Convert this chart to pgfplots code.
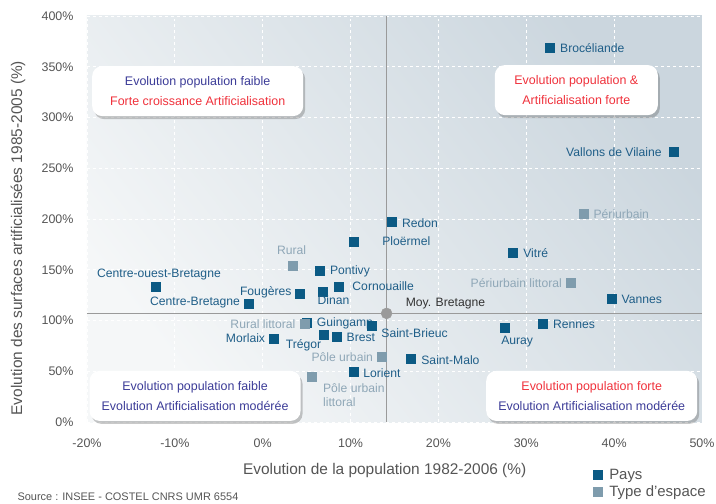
\documentclass[border=0pt]{standalone}
\usepackage{fontspec}
\setmainfont{Liberation Sans}
\usepackage{pgfplots}
\pgfplotsset{compat=1.18}
\usetikzlibrary{shadows}

\definecolor{pays}{HTML}{0B5A84}
\definecolor{paystext}{HTML}{1F5E88}
\definecolor{espace}{HTML}{7F9CAD}
\definecolor{espacetext}{HTML}{8FA7B7}
\definecolor{tickgray}{HTML}{555555}
\definecolor{avggray}{HTML}{9A9A9A}
\definecolor{bgA}{HTML}{F5F7F8}
\definecolor{bgB}{HTML}{CBD6DE}
\definecolor{boxblue}{HTML}{3C3C98}
\definecolor{boxred}{HTML}{F0323C}

\tikzset{box/.style={fill=white, rounded corners=10bp, minimum width=211bp,
    minimum height=50bp, align=center, font=\fontsize{12.5}{20}\selectfont,
    drop shadow={shadow xshift=2bp, shadow yshift=-3bp, opacity=0.3, fill=black!70}}}

\pgfplotsset{
  % label anchor, xshift, yshift, text colour
  lab/.style n args={4}{
    nodes near coords, point meta=explicit symbolic,
    every node near coord/.style={anchor=#1, xshift=#2, yshift=#3,
      inner sep=0pt, align=left, font=\fontsize{12.2}{14.5}\selectfont, text=#4}},
  pays/.style={only marks, mark=square*, mark size=4.5bp, color=pays, forget plot},
  espace/.style={only marks, mark=square*, mark size=4.5bp, color=espace, forget plot},
}

\begin{document}
\begin{tikzpicture}
\useasboundingbox (-87bp,-82bp) rectangle (629bp,422bp);
\begin{axis}[
  at={(0,0)}, anchor=south west,
  scale only axis, width=615bp, height=406bp,
  xmin=-20, xmax=50, ymin=0, ymax=400,
  xtick={-20,-10,...,50}, ytick={0,50,...,400},
  xticklabel={\pgfmathprintnumber{\tick}\%},
  yticklabel={\pgfmathprintnumber{\tick}\%},
  /pgf/number format/assume math mode=true,
  ticklabel style={font=\fontsize{12.5}{14}\selectfont, text=tickgray},
  xticklabel style={yshift=-13bp},
  yticklabel style={xshift=-10bp},
  grid=major,
  major grid style={white, dashed, line width=0.8pt},
  axis line style={draw=none},
  tick style={draw=none},
  axis background/.style={bottom color=bgA, top color=bgB, shading angle=-52},
  xlabel={Evolution de la population 1982-2006 (\%)},
  ylabel={Evolution des surfaces artificialisées 1985-2005 (\%)},
  x label style={at={(axis description cs:0.484,0)}, anchor=center, yshift=-49bp,
    font=\fontsize{15.5}{18}\selectfont, text=tickgray},
  y label style={at={(axis description cs:-0.1122,0.453)}, anchor=center,
    font=\fontsize{15.5}{18}\selectfont, text=tickgray},
  legend style={at={(axis description cs:0.818,-0.105)}, anchor=north west,
    draw=none, fill=none, font=\fontsize{15}{18}\selectfont, text=tickgray,
    row sep=1bp, nodes={inner xsep=7bp}},
  legend cell align=left,
  clip=false,
]
% moyenne Bretagne
\addplot[avggray, line width=1.5bp, forget plot] coordinates {(14.1,0) (14.1,400)};
\addplot[avggray, line width=1.5bp, forget plot] coordinates {(-20,107) (50,107)};

\node[box] at (axis cs:-7.4,326)
  {\textcolor{boxblue}{Evolution population faible}\\\textcolor{boxred}{Forte croissance Artificialisation}};
\node[box, minimum width=163bp] at (axis cs:35.7,327)
  {\textcolor{boxred}{Evolution population \&}\\\textcolor{boxred}{Artificialisation forte}};
\node[box] at (axis cs:-7.7,25.7)
  {\textcolor{boxblue}{Evolution population faible}\\\textcolor{boxblue}{Evolution Artificialisation modérée}};
\node[box] at (axis cs:37.45,25.7)
  {\textcolor{boxred}{Evolution population forte}\\\textcolor{boxblue}{Evolution Artificialisation modérée}};

\addplot[only marks, mark=*, mark size=5.5bp, color=avggray, forget plot,
  lab={west}{19bp}{10bp}{black!80}]
  coordinates {(14.1,107) [Moy. Bretagne]};

% Pays
\addplot[pays, lab={west}{10bp}{-1bp}{paystext}] coordinates {
  (32.7,369) [Brocéliande]
  (14.7,197) [Redon]
  (6.5,149.5) [Pontivy]
  (5.0,98.3) [Guingamp]
  (8.4,84.5) [Brest]
  (16.9,62.4) [Saint-Malo]
  (10.3,49.2) [Lorient]
  (28.5,167) [Vitré]
  (39.7,121.5) [Vannes]
  (31.9,97) [Rennes]
};
\addplot[pays, lab={west}{28bp}{0bp}{paystext}] coordinates {(10.4,178) [Ploërmel]};
\addplot[pays, lab={west}{14bp}{1bp}{paystext}] coordinates {(8.6,133) [Cornouaille]};
\addplot[pays, lab={west}{10bp}{-8bp}{paystext}] coordinates {(12.35,95) [Saint-Brieuc]};
\addplot[pays, lab={east}{-8bp}{1bp}{paystext}] coordinates {
  (4.2,126.7) [Fougères]
  (-1.65,116.8) [Centre-Bretagne]
  (1.2,82) [Morlaix]
};
\addplot[pays, lab={east}{-12bp}{0bp}{paystext}] coordinates {(46.8,266) [Vallons de Vilaine]};
\addplot[pays, lab={north}{11bp}{-4bp}{paystext}] coordinates {(6.8,128.7) [Dinan]};
\addplot[pays, lab={north}{12bp}{-8bp}{paystext}] coordinates {(27.6,92.8) [Auray]};
\addplot[pays, lab={south}{3bp}{7bp}{paystext}] coordinates {(-12.15,133) [Centre-ouest-Bretagne]};
\addplot[pays, lab={north east}{-2bp}{-4bp}{paystext}] coordinates {(6.9,85.8) [Trégor]};

% Type d'espace
\addplot[espace, lab={west}{10bp}{0bp}{espacetext}] coordinates {(36.5,205) [Périurbain]};
\addplot[espace, lab={east}{-9bp}{0bp}{espacetext}] coordinates {
  (35.1,137.3) [Périurbain littoral]
  (4.76,96.7) [Rural littoral]
  (13.6,64.4) [Pôle urbain]
};
\addplot[espace, lab={south}{-1bp}{11bp}{espacetext}] coordinates {(3.4,154) [Rural]};
\addplot[espace, lab={north west}{11bp}{-7bp}{espacetext}] coordinates {(5.6,44.9) [{Pôle urbain\\littoral}]};

\addlegendimage{only marks, mark=square*, mark size=4.5bp, color=pays}
\addlegendentry{Pays}
\addlegendimage{only marks, mark=square*, mark size=4.5bp, color=espace}
\addlegendentry{Type d’espace}
\end{axis}
\node[anchor=west, font=\fontsize{11}{13}\selectfont, text=tickgray]
  at (-73bp,-75bp) {Source : INSEE - COSTEL CNRS UMR 6554};
\end{tikzpicture}
\end{document}
